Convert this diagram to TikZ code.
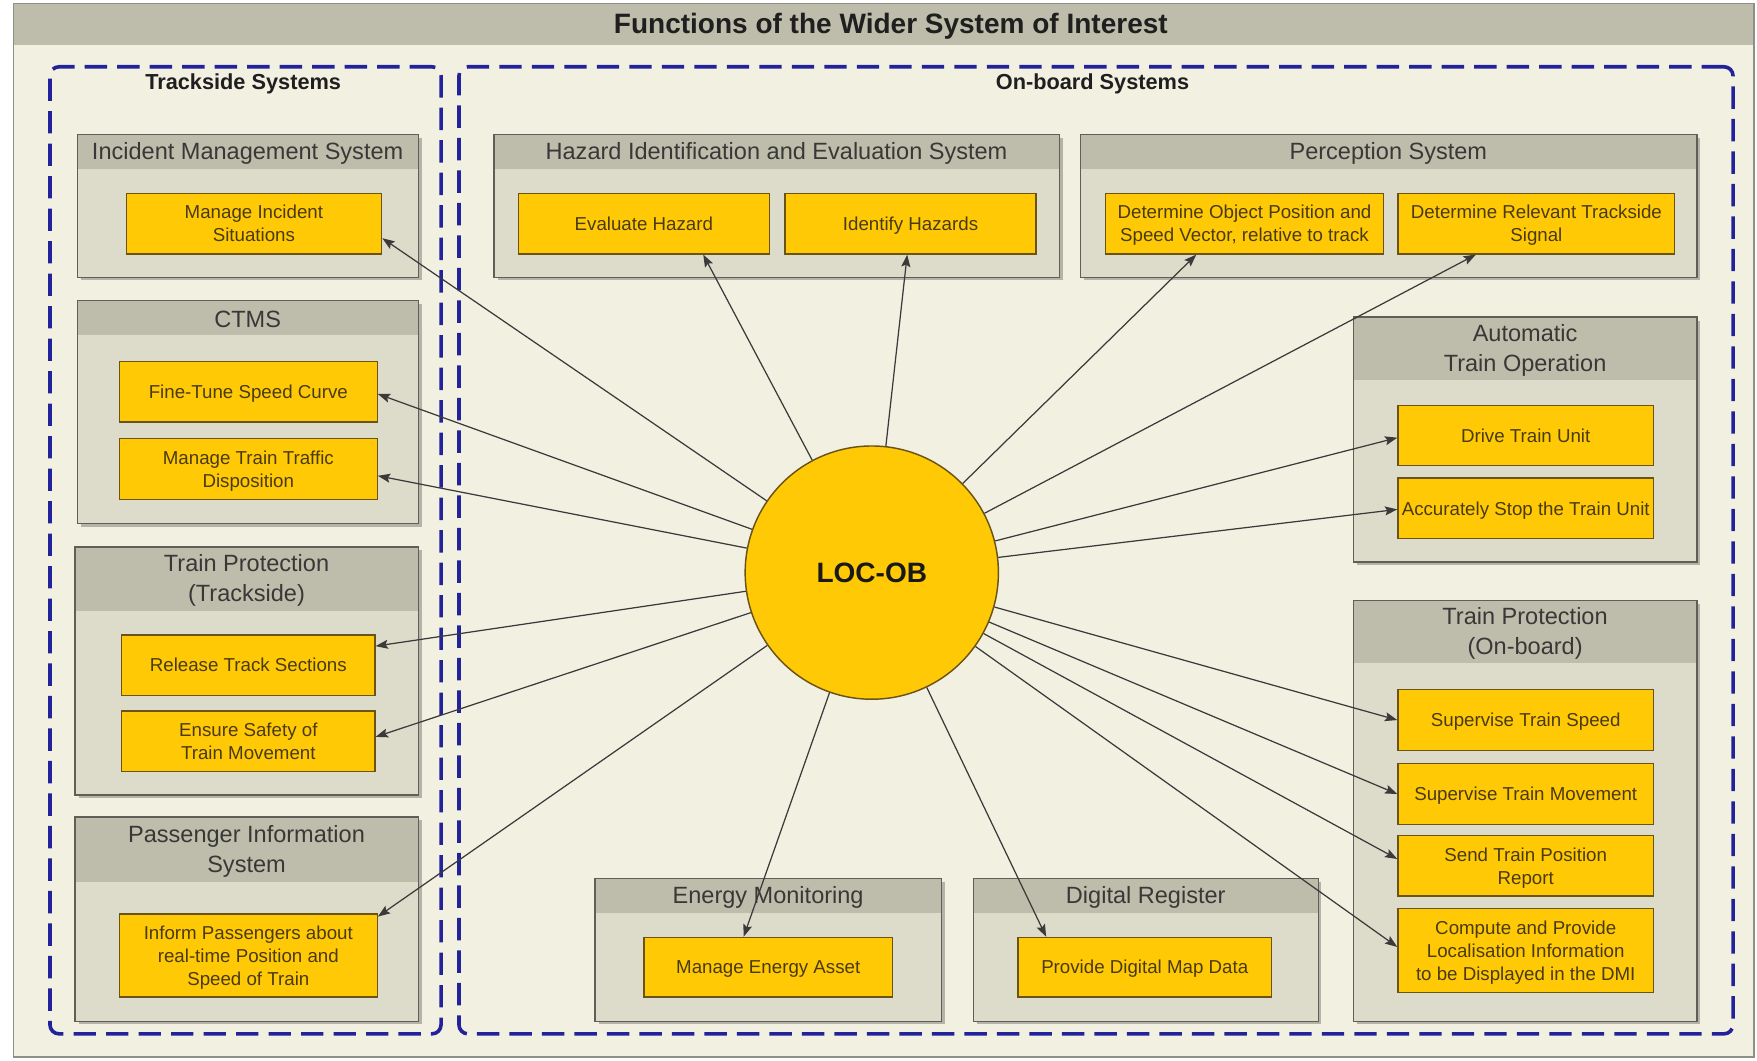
\documentclass[tikz,border=0pt]{standalone}
\usepackage{fontspec}
\setmainfont{Liberation Sans}
\usetikzlibrary{arrows.meta,shadows}

\definecolor{cream}{HTML}{F2F0E1}
\definecolor{frameline}{HTML}{8F8F88}
\definecolor{barfill}{HTML}{BEBCAA}
\definecolor{grpbody}{HTML}{DDDBC9}
\definecolor{grpline}{HTML}{5F5F5A}
\definecolor{fnyellow}{HTML}{FFCA05}
\definecolor{fnline}{HTML}{6B5316}
\definecolor{fntext}{HTML}{4A3A10}
\definecolor{zoneblue}{HTML}{22229A}
\definecolor{connline}{HTML}{3A3A3A}

\tikzset{
  framebox/.style={draw=none, fill=cream, inner sep=0pt},
  zone/.style={draw=zoneblue, line width=3.2pt, dash pattern=on 20pt off 9pt,
    rounded corners=8pt, inner sep=0pt},
  zonelabel/.style={font=\bfseries\fontsize{19.4}{23}\selectfont, text=black!88},
  grpbox/.style={fill=grpbody, draw=none, inner sep=0pt,
    drop shadow={shadow xshift=3pt, shadow yshift=-3pt, opacity=0.25, fill=black}},
  hdrfill/.style={fill=barfill},
  grpborder/.style={draw=grpline, line width=1.2pt},
  hdrtext/.style={font=\fontsize{21}{27}\selectfont, text=black!78, align=center, inner sep=0pt},
  funcbox/.style={fill=fnyellow, draw=fnline, line width=1.2pt, inner sep=1pt,
    align=center, text=fntext, font=\fontsize{16.7}{20.5}\selectfont, text depth=0pt},
  hub/.style={circle, fill=fnyellow, draw=fnline, line width=1.3pt, inner sep=0pt,
    minimum size=226pt, font=\bfseries\fontsize{25}{30}\selectfont, text=black!90},
  conn/.style={draw=connline, line width=1.1pt, -{Stealth[length=11pt,width=8pt,inset=2pt]}},
}

% group with a grey header strip: name, x1, y1, x2, y2, header height, title
\newcommand\sysgroup[7]{%
  \node[grpbox, minimum width={#4-#2}, minimum height={#5-#3}, anchor=north west] (#1) at (#2,#3) {};
  \fill[hdrfill] ({#2},{#3}) rectangle ({#4},{#3+#6});
  \draw[grpborder] (#1.north west) rectangle (#1.south east);
  \node[hdrtext] (#1-title) at ({(#2+#4)/2},{#3+#6/2+1.5}) {#7};
}
% yellow function box: name, x1, y1, x2, y2, text
\newcommand\func[6]{%
  \node[funcbox, minimum width={#4-#2}, minimum height={#5-#3}, anchor=north west] (#1) at (#2,#3) {#6};
}

\begin{document}
\begin{tikzpicture}[x=1pt,y=-1pt]
\useasboundingbox (0,0) rectangle (1568,946);
\fill[white] (0,0) rectangle (1568,946);

% outer frame and title bar
\node[framebox, minimum width=1553pt, minimum height=940pt, anchor=north west] (frame) at (12,3) {};
\fill[barfill] (12,3) rectangle (1565,40);
\draw[frameline, line width=1.5pt] (frame.north west) rectangle (frame.south east);
\node[font=\bfseries\fontsize{25}{30}\selectfont, text=black!88] (title) at (795,23)
  {Functions of the Wider System of Interest};

% trackside / on-board zones
\node[zone, minimum width=349pt, minimum height=863pt, anchor=north west] (trk) at (43,58) {};
\node[zonelabel] (trk-label) at (217,75) {Trackside Systems};
\node[zone, minimum width=1137pt, minimum height=863pt, anchor=north west] (onb) at (408,58) {};
\node[zonelabel] (onb-label) at (975,75) {On-board Systems};

% trackside groups
\sysgroup{ims}{69}{120}{373}{247}{31}{Incident Management System}
\func{mis}{112}{172}{340}{226}{Manage Incident\\Situations}

\sysgroup{ctms}{69}{268}{373}{467}{31}{CTMS}
\func{fts}{106}{322}{336}{376}{Fine-Tune Speed Curve}
\func{mttd}{106}{391}{336}{445}{Manage Train Traffic\\Disposition}

\sysgroup{tpt}{67}{488}{373}{709}{57}{Train Protection\\(Trackside)}
\func{rts}{108}{566}{334}{620}{Release Track Sections}
\func{est}{108}{634}{334}{688}{Ensure Safety of\\Train Movement}

\sysgroup{pis}{67}{729}{373}{911}{58}{Passenger Information\\System}
\func{ipa}{106}{815}{336}{889}{Inform Passengers about\\real-time Position and\\Speed of Train}

% on-board groups
\sysgroup{hies}{441}{120}{945}{247}{31}{Hazard Identification and Evaluation System}
\func{evh}{462}{172}{686}{226}{Evaluate Hazard}
\func{idh}{700}{172}{924}{226}{Identify Hazards}

\sysgroup{pcs}{964}{120}{1514}{247}{31}{Perception System}
\func{dop}{986}{172}{1234}{226}{Determine Object Position and\\Speed Vector, relative to track}
\func{drs}{1247}{172}{1494}{226}{Determine Relevant Trackside\\Signal}

\sysgroup{ato}{1208}{283}{1514}{501}{56}{Automatic\\Train Operation}
\func{dtu}{1247}{361}{1475}{415}{Drive Train Unit}
\func{ast}{1247}{426}{1475}{480}{Accurately Stop the Train Unit}

\sysgroup{tpo}{1208}{536}{1514}{911}{56}{Train Protection\\(On-board)}
\func{sts}{1247}{615}{1475}{669}{Supervise Train Speed}
\func{stm}{1247}{681}{1475}{735}{Supervise Train Movement}
\func{stp}{1247}{745}{1475}{799}{Send Train Position\\Report}
\func{cpl}{1247}{810}{1475}{885}{Compute and Provide\\Localisation Information\\to be Displayed in the DMI}

\sysgroup{enm}{531}{784}{840}{911}{31}{Energy Monitoring}
\func{mea}{574}{836}{796}{889}{Manage Energy Asset}

\sysgroup{dgr}{869}{784}{1176}{911}{31}{Digital Register}
\func{pdm}{908}{836}{1134}{889}{Provide Digital Map Data}

% central localisation unit
\node[hub] (loc) at (778,511) {LOC-OB};

% connectors from LOC-OB to the functions
\draw[conn] (loc) -- ([yshift=-13pt]mis.east);
\draw[conn] (loc) -- ([yshift=-2pt]fts.east);
\draw[conn] (loc) -- ([yshift=-6pt]mttd.east);
\draw[conn] (loc) -- ([yshift=17pt]rts.east);
\draw[conn] (loc) -- ([yshift=4pt]est.east);
\draw[conn] (loc) -- ([yshift=-3pt]ipa.north east);
\draw[conn] (loc) -- ([xshift=53pt]evh.south);
\draw[conn] (loc) -- ([xshift=-3pt]idh.south);
\draw[conn] (loc) -- ([xshift=-43pt]dop.south);
\draw[conn] (loc) -- ([xshift=-54pt]drs.south);
\draw[conn] (loc) -- ([yshift=-2pt]dtu.west);
\draw[conn] (loc) -- ([yshift=-1pt]ast.west);
\draw[conn] (loc) -- (sts.west);
\draw[conn] (loc) -- (stm.west);
\draw[conn] (loc) -- ([yshift=6pt]stp.west);
\draw[conn] (loc) -- ([yshift=3pt]cpl.west);
\draw[conn] (loc) -- ([xshift=-22pt]mea.north);
\draw[conn] (loc) -- ([xshift=-88pt]pdm.north);
\end{tikzpicture}
\end{document}
